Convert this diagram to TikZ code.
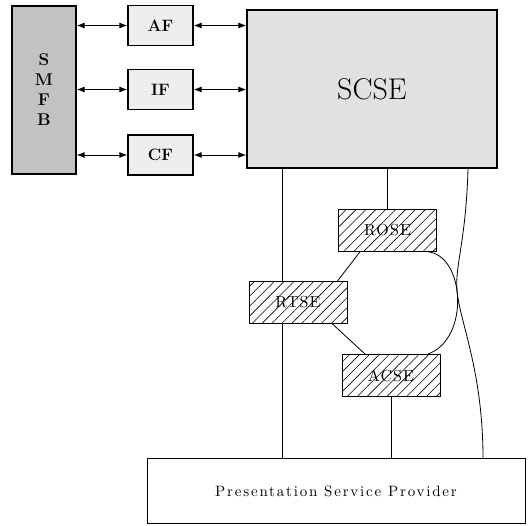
\documentclass[tikz,border=0pt]{standalone}
\usepackage{fontspec}
\usepackage{tikz}
\usepackage{xcolor}
\usetikzlibrary{arrows.meta,positioning,patterns.meta}
\newfontfamily\widefont{lmroman10-regular.otf}[LetterSpace=12]
\newfontfamily\tightfont{lmroman10-regular.otf}[LetterSpace=7]
\definecolor{Stipple}{HTML}{C8C8C8}
\definecolor{StippleDark}{HTML}{A8A8A8}

\begin{document}
\begin{tikzpicture}[x=1pt,y=-1pt,
  box/.style={draw,line width=1.3pt,inner sep=0pt},
  func/.style={box,fill=Stipple!30,minimum width=65,minimum height=40,font=\fontsize{16.5}{18}\selectfont\bfseries},
  entity/.style={draw,line width=1pt,inner sep=0pt,minimum width=98,minimum height=42,
    pattern={Lines[angle=45,distance=7pt,line width=0.6pt]},
    font=\tightfont\fontsize{16}{18}\selectfont},
  link/.style={line width=0.8pt},
  dual/.style={line width=0.9pt,{Latex[length=8pt,width=6pt]}-{Latex[length=8pt,width=6pt]}}]
  \useasboundingbox (0,0) rectangle (528,526);

  \node[box,fill=StippleDark!70,minimum width=64,minimum height=168,align=center,
    font=\fontsize{17}{20}\selectfont\bfseries] (smfb) at (44,90) {S\\M\\F\\B};
  \node[func] (af) at (160.5,25.5) {AF};
  \node[func] (if) at (160.5,89.5) {IF};
  \node[func] (cf) at (160.5,155) {CF};
  \node[box,fill=Stipple!55,minimum width=250,minimum height=158,
    font=\fontsize{30}{32}\selectfont] (scse) at (372,89) {SCSE};

  \foreach \f in {af,if,cf} {
    \draw[dual] (\f.west -| smfb.east) -- (\f.west);
    \draw[dual] (\f.east) -- (\f.east -| scse.west);
  }

  \node[entity] (rose) at (387.5,230.5) {ROSE};
  \node[entity] (rtse) at (298,302.5) {RTSE};
  \node[entity] (acse) at (391,375.5) {ACSE};
  \node[draw,line width=1pt,minimum width=378,minimum height=65,
    font=\widefont\fontsize{15}{17}\selectfont] (psp) at (336,491.5) {Presentation Service Provider};

  \coordinate (bend) at (457,290);

  \draw[link] ([xshift=-16]rtse.north |- scse.south) -- ([xshift=-16]rtse.north);
  \draw[link] ([xshift=-16]rtse.south) -- ([xshift=-16]rtse.south |- psp.north);
  \draw[link] (rose.north |- scse.south) -- (rose.north);
  \draw[link] (acse.south) -- (acse.south |- psp.north);
  \draw[link] ([xshift=96]scse.south) .. controls +(-2,72) and +(-2,-25) .. (bend)
    .. controls +(2,30) and +(0,-89) .. ([xshift=147]psp.north);

  \draw[link] ([xshift=-27.5]rose.south) -- ([xshift=-10]rtse.north east);
  \draw[link] ([xshift=-15]rtse.south east) -- ([xshift=-26]acse.north);
  \draw[link] ([xshift=40.5]rose.south) .. controls +(37,4) and +(42,-15) .. ([xshift=37]acse.north);
\end{tikzpicture}
\end{document}
